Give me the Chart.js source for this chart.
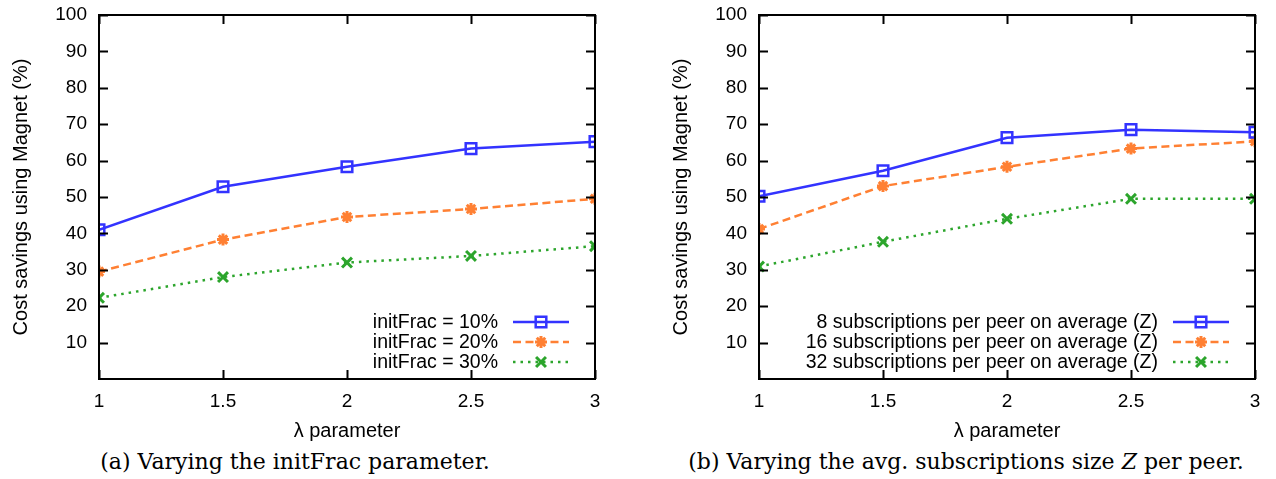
<!DOCTYPE html>
<html>
<head>
<meta charset="utf-8">
<script src="https://cdn.jsdelivr.net/npm/chart.js@4/dist/chart.umd.min.js"></script>
<style>
  body { margin: 0; background: #fff; width: 1276px; height: 479px; position: relative; overflow: hidden; }
  .box { position: absolute; top: 0; width: 616px; height: 445px; }
  .cap { position: absolute; top: 449px; font-family: "DejaVu Serif", serif; font-size: 22px; color: #000; white-space: nowrap; transform: translateX(-50%); }
</style>
</head>
<body>
<div class="box" style="left:0px"><canvas id="chartA"></canvas></div>
<div class="box" style="left:660px"><canvas id="chartB"></canvas></div>
<div class="cap" style="left:295px">(a) Varying the initFrac parameter.</div>
<div class="cap" style="left:966px">(b) Varying the avg. subscriptions size <i>Z</i> per peer.</div>
<script>
var lambdas = [1, 1.5, 2, 2.5, 3];
var yTicks = [10, 20, 30, 40, 50, 60, 70, 80, 90, 100];

// (a) initFrac
var labelsA = ['initFrac = 10%', 'initFrac = 20%', 'initFrac = 30%'];
var frac10 = [41.0, 52.8, 58.3, 63.3, 65.2];
var frac20 = [29.5, 38.3, 44.5, 46.7, 49.5];
var frac30 = [22.3, 28.0, 32.0, 33.8, 36.5];

// (b) subscriptions Z
var labelsB = ['8 subscriptions per peer on average (Z)', '16 subscriptions per peer on average (Z)', '32 subscriptions per peer on average (Z)'];
var z8 = [50.2, 57.2, 66.3, 68.5, 67.8];
var z16 = [41.2, 53.0, 58.3, 63.3, 65.3];
var z32 = [30.9, 37.7, 44.0, 49.5, 49.5];

var blue = '#3333ff', orange = '#ff8033', green = '#2ca52c';
var sansFont = '"Liberation Sans", Arial, sans-serif';

function pts(vals) {
    var out = [];
    for (var i = 0; i < vals.length; i++) out.push({x: lambdas[i], y: vals[i]});
    return out;
}

function makeSets(labels, a, b, c) {
    return [
        { label: labels[0], data: pts(a), borderColor: blue, backgroundColor: 'transparent',
          borderWidth: 2.5, pointStyle: 'rect', pointRadius: 7.5, pointBorderWidth: 2.5 },
        { label: labels[1], data: pts(b), borderColor: orange, backgroundColor: orange,
          borderWidth: 2.5, borderDash: [8, 4.5], pointStyle: 'star', pointRadius: 6, pointBorderWidth: 3 },
        { label: labels[2], data: pts(c), borderColor: green, backgroundColor: green,
          borderWidth: 2.5, borderDash: [2.5, 5], pointStyle: 'crossRot', pointRadius: 7, pointBorderWidth: 3 }
    ];
}

// frame + inward ticks on all four sides, gnuplot style
var framePlugin = {
    id: 'frame',
    afterDatasetsDraw: function(chart) {
        var c = chart.ctx, a = chart.chartArea;
        var xs = chart.scales.x, ys = chart.scales.y;
        c.save();
        c.strokeStyle = '#000';
        c.lineWidth = 2;
        c.setLineDash([]);
        c.beginPath();
        yTicks.forEach(function(v) {
            var y = Math.round(ys.getPixelForValue(v)) + 0.5;
            c.moveTo(a.left, y); c.lineTo(a.left + 9, y);
            c.moveTo(a.right, y); c.lineTo(a.right - 9, y);
        });
        lambdas.forEach(function(v) {
            var x = Math.round(xs.getPixelForValue(v)) + 0.5;
            c.moveTo(x, a.bottom); c.lineTo(x, a.bottom - 9);
            c.moveTo(x, a.top); c.lineTo(x, a.top + 9);
        });
        c.stroke();
        c.strokeRect(a.left, a.top, a.right - a.left, a.bottom - a.top);
        c.restore();
    }
};

// legend in the lower right, text right-aligned before the sample
var keyPlugin = {
    id: 'key',
    afterDraw: function(chart) {
        var c = chart.ctx, a = chart.chartArea;
        var rows = [-57, -37, -17];
        c.save();
        c.font = '19.5px ' + sansFont;
        c.textAlign = 'right';
        c.textBaseline = 'middle';
        chart.data.datasets.forEach(function(ds, i) {
            var y = a.bottom + rows[i];
            c.fillStyle = '#000';
            c.fillText(ds.label, a.right - 97, y + 1);
            c.strokeStyle = ds.borderColor;
            c.lineWidth = ds.borderWidth;
            c.setLineDash(ds.borderDash || []);
            c.beginPath();
            c.moveTo(a.right - 82, y);
            c.lineTo(a.right - 26, y);
            c.stroke();
            c.setLineDash([]);
            c.fillStyle = ds.backgroundColor;
            c.lineWidth = ds.pointBorderWidth;
            Chart.helpers.drawPoint(c, { pointStyle: ds.pointStyle, radius: ds.pointRadius, borderWidth: ds.pointBorderWidth, rotation: 0 }, a.right - 54, y);
        });
        c.restore();
    }
};

function makeChart(id, sets) {
    return new Chart(document.getElementById(id).getContext('2d'), {
        type: 'line',
        data: { datasets: sets },
        options: {
            responsive: false,
            animation: false,
            layout: { padding: { top: 15, right: 21, bottom: 0, left: 0 } },
            plugins: { legend: { display: false }, tooltip: { enabled: false } },
            scales: {
                x: {
                    type: 'linear', min: 1, max: 3,
                    afterFit: function(s) { s.height = 66; s.paddingLeft = 0; s.paddingRight = 0; },
                    grid: { display: false, drawTicks: false }, border: { display: false },
                    ticks: { stepSize: 0.5, padding: 11, color: '#000', font: { family: sansFont, size: 19 },
                             callback: function(v) { return String(v); } },
                    title: { display: true, text: 'λ parameter', color: '#000', padding: { top: 0, bottom: 2 }, font: { family: sansFont, size: 20 } }
                },
                y: {
                    min: 0, max: 100,
                    afterFit: function(s) { s.width = 99; s.paddingTop = 0; s.paddingBottom = 0; },
                    grid: { display: false, drawTicks: false }, border: { display: false },
                    ticks: { stepSize: 10, padding: 12, color: '#000', font: { family: sansFont, size: 19 },
                             callback: function(v) { return v === 0 ? '' : v; } },
                    title: { display: true, text: 'Cost savings using Magnet (%)', color: '#000', padding: { top: 9, bottom: 0 }, font: { family: sansFont, size: 20 } }
                }
            }
        },
        plugins: [framePlugin, keyPlugin]
    });
}

var cvA = document.getElementById('chartA'); cvA.width = 616; cvA.height = 445;
var cvB = document.getElementById('chartB'); cvB.width = 616; cvB.height = 445;
makeChart('chartA', makeSets(labelsA, frac10, frac20, frac30));
makeChart('chartB', makeSets(labelsB, z8, z16, z32));
</script>
</body>
</html>
